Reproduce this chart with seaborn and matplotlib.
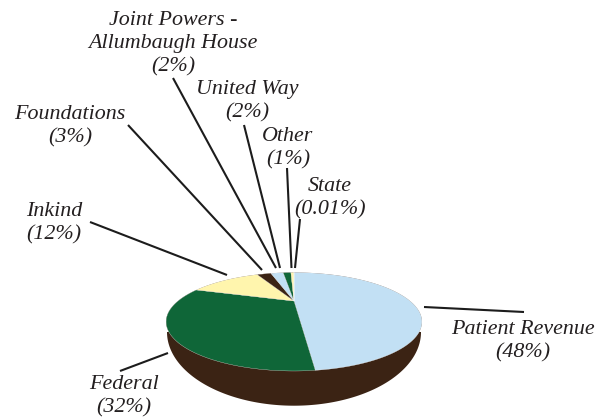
import numpy as np
import matplotlib
matplotlib.use("Agg")
import matplotlib.pyplot as plt
from matplotlib.patches import Polygon
import seaborn as sns

# Data
categories = ["Patient Revenue", "Federal", "Inkind", "Foundations",
              "Joint Powers -\nAllumbaugh House", "United Way", "Other", "State"]
label_pct = ["48%", "32%", "12%", "3%", "2%", "2%", "1%", "0.01%"]
# slice sizes (percent)
drawn_share = [48.3, 31.7, 12.8, 2.7, 2.4, 1.5, 0.59, 0.01]
slice_colors = ["#c2e0f4", "#0f6638", "#fff5ad", "#3b2314", "#c2e0f4", "#0f6638", "#fff5ad", "#c2e0f4"]
side_color = "#3b2314"

# Label centres and leader lines (pixel space)
label_xy = [(523, 341), (124, 396), (54, 223), (70, 126),
            (173, 44), (247, 101), (288, 148), (330, 198)]
leaders = [((424, 307), (524, 312)), ((168, 353), (120, 371)), ((90, 222), (227, 275)),
           ((128, 125), (262, 270)), ((173, 78), (276, 268)), ((244, 125), (280, 268)),
           ((287, 168), (291.5, 268)), ((300, 219), (295, 268))]

# Perspective of the pie
CX, APEX_Y, A, B, K = 294, 301, 116, 40.5, 0.4214


def project(theta):
    u, v = np.sin(theta), np.cos(theta)
    d = 1 + K * v
    return CX + A * u / d, APEX_Y - B * v / d


sns.set_theme(style="white")
plt.rcParams["font.family"] = ["Liberation Serif", "DejaVu Serif"]
fig = plt.figure(figsize=(6.06, 4.18), dpi=100)
ax = fig.add_axes([0, 0, 1, 1])
ax.set_xlim(0, 606)
ax.set_ylim(418, 0)
ax.axis("off")

# Side wall
t = np.linspace(0, 2 * np.pi, 400)
tx, ty = project(t)
st = np.linspace(np.pi, 2 * np.pi, 200)
sx = CX + 127 * np.cos(st)
sy = 332 - 73.7 * np.sin(st)
ax.add_patch(Polygon(np.column_stack([sx, sy]), closed=True, fc=side_color, ec="none", zorder=1))
ax.fill(tx, ty, color=side_color, lw=0, zorder=1)

# Top slices
edges = np.cumsum([0] + drawn_share) / sum(drawn_share) * 2 * np.pi
for i, color in enumerate(slice_colors):
    th = np.linspace(edges[i], edges[i + 1], 120)
    x, y = project(th)
    ax.add_patch(Polygon(np.column_stack([np.r_[CX, x], np.r_[APEX_Y, y]]), closed=True,
                         fc=color, ec="white", lw=0.2, zorder=2))

for (p0, p1) in leaders:
    ax.plot([p0[0], p1[0]], [p0[1], p1[1]], color="#1c1c1c", lw=1.5, zorder=3, solid_capstyle="butt")

for name, pct, (lx, ly) in zip(categories, label_pct, label_xy):
    ax.text(lx, ly, f"{name}\n({pct})", ha="center", va="center", style="italic",
            fontsize=15.8, color="#231f20", linespacing=1.3, zorder=4)

fig.savefig("out.png", dpi=100)
